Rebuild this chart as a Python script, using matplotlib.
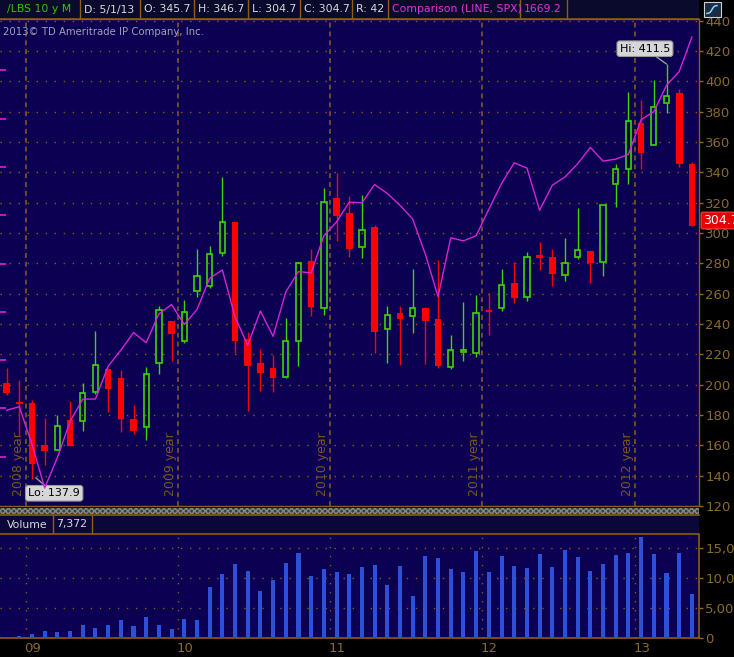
import matplotlib
matplotlib.use('Agg')
import matplotlib.pyplot as plt
from matplotlib.patches import Rectangle
import numpy as np

# ---------------- data (monthly /LBS candles, Nov 2008 .. May 2013) ----------------
opens = [201.1, 188.5, 188.1, 160.3, 157.2, 176.7, 175.9, 195.0, 210.3, 204.3,
         177.4, 171.9, 214.0, 241.8, 229.0, 262.0, 265.0, 286.7, 307.6, 230.0,
         214.2, 211.0, 204.8, 229.1, 281.3, 250.8, 323.4, 313.5, 290.9, 304.3,
         237.0, 247.1, 245.6, 250.4, 243.1, 212.0, 222.0, 221.2, 249.5, 250.8,
         267.3, 258.1, 285.7, 284.4, 272.3, 284.2, 288.5, 281.1, 332.4, 342.2,
         372.5, 358.0, 385.6, 392.2, 345.7]
highs = [211.0, 203.0, 189.9, 178.0, 180.2, 189.4, 200.9, 235.6, 211.0, 209.6,
         186.6, 211.6, 251.7, 242.0, 255.6, 289.8, 291.6, 337.2, 307.6, 235.0,
         223.4, 219.5, 243.8, 280.8, 289.2, 330.0, 339.6, 324.7, 325.3, 305.6,
         251.7, 251.7, 276.0, 251.0, 282.0, 232.6, 254.3, 259.4, 260.7, 276.0,
         281.1, 287.2, 293.8, 289.8, 297.0, 316.8, 288.5, 318.5, 345.5, 393.0,
         387.8, 401.0, 411.5, 394.8, 346.7]
lows = [193.4, 166.2, 137.9, 147.2, 157.0, 159.4, 169.3, 194.0, 181.8, 169.0,
        167.5, 163.4, 207.2, 215.7, 227.6, 257.8, 263.7, 284.8, 221.2, 182.9,
        196.0, 195.3, 204.5, 212.4, 245.3, 246.0, 294.6, 284.1, 283.4, 221.0,
        214.5, 213.0, 234.2, 213.8, 211.0, 210.5, 215.5, 218.4, 232.8, 248.6,
        253.9, 255.0, 275.6, 265.0, 268.6, 283.0, 267.3, 271.6, 317.2, 332.4,
        342.2, 358.0, 379.0, 343.5, 304.7]
closes = [194.5, 187.5, 147.8, 156.5, 172.6, 159.6, 194.3, 213.0, 197.3, 177.6,
          169.7, 206.8, 249.5, 233.5, 248.2, 271.9, 286.3, 307.4, 229.0, 212.4,
          207.8, 204.3, 228.5, 280.4, 251.3, 320.5, 311.0, 289.4, 302.1, 234.8,
          246.2, 243.4, 250.8, 242.0, 212.4, 222.6, 222.6, 247.5, 248.0, 266.0,
          257.2, 284.4, 283.4, 273.0, 280.4, 289.0, 280.2, 318.5, 342.0, 374.0,
          352.5, 383.0, 390.6, 345.3, 304.7]
volumes = [170, 335, 670, 1170, 1000, 1170, 2180, 1680, 2180, 3020,
           2010, 3520, 2180, 1510, 3180, 3020, 8550, 10560, 12230, 11060,
           7880, 9550, 12400, 14080, 10220, 11400, 10900, 10560, 11730, 12070,
           8880, 11900, 7040, 13580, 13240, 11400, 10900, 14410, 10900, 13580,
           11900, 11570, 13910, 11730, 14580, 13410, 11060, 12230, 13740, 14080,
           16760, 13910, 10730, 14080, 7372]
spx = [896.2, 903.3, 825.9, 735.1, 797.9, 872.8, 919.1, 919.3, 987.5, 1020.6,
       1057.1, 1036.2, 1095.6, 1115.1, 1073.9, 1104.5, 1169.4, 1186.7, 1089.4, 1030.7,
       1101.6, 1049.3, 1141.2, 1183.3, 1180.6, 1257.6, 1286.1, 1327.2, 1325.8, 1363.6,
       1345.2, 1320.6, 1292.3, 1218.9, 1131.4, 1253.3, 1247.0, 1257.6, 1312.4, 1365.7,
       1408.5, 1397.9, 1310.3, 1362.2, 1379.3, 1406.6, 1440.7, 1412.2, 1416.2, 1426.2,
       1498.1, 1514.7, 1569.2, 1597.6, 1669.2]
price_ticks = [120, 140, 160, 180, 200, 220, 240, 260, 280, 300, 320, 340, 360, 380, 400, 420, 440]
spx_ticks = [800, 900, 1000, 1100, 1200, 1300, 1400, 1500, 1600]
year_labels = ['2008 year', '2009 year', '2010 year', '2011 year', '2012 year']
vol_xlabels = ['09', '10', '11', '12', '13']
vol_ticks = [0, 5000, 10000, 15000]
vol_ticklabels = ['0', '5,000', '10,000', '15,000']
header_items = [('/LBS 10 y M', '#35c400'), ('D: 5/1/13', '#d8d8d8'), ('O: 345.7', '#d8d8d8'),
                ('H: 346.7', '#d8d8d8'), ('L: 304.7', '#d8d8d8'), ('C: 304.7', '#d8d8d8'),
                ('R: 42', '#d8d8d8'), ('Comparison (LINE, SPX)', '#e030e0'), ('1669.2', '#e030e0')]

# ---------------- style ----------------
W, H = 734, 657
BG = '#0b0052'
BROWN = '#8b5e14'
LBL = '#8a6a2a'
GREEN = '#3fd400'
RED = '#ff0000'
MAG = '#d424d4'
VOLC = '#2d50d9'

def fx(px):
    return px / W

def fy(py):
    return 1 - py / H

fig = plt.figure(figsize=(W / 100, H / 100), dpi=100, facecolor='black')

x = np.arange(len(closes))
years_x = [1.5, 13.5, 25.5, 37.5, 49.5]
xlim = (-0.52, 54.56)

# ---------------- main price panel ----------------
ax = fig.add_axes([0, fy(506), fx(699), (506 - 19) / H], facecolor=BG)
ax.set_xlim(*xlim)
ax.set_ylim(120.9, 441.2)

# comparison line (SPX) on its own scale
ax2 = ax.twinx()
ax2.set_xlim(*xlim)
ax2.set_ylim(697.8, 1706.5)
ax2.plot(x, spx, color=MAG, lw=1.0, zorder=5)
ax2.yaxis.set_ticks_position('left')
ax2.set_yticks(spx_ticks)
ax2.tick_params(axis='y', direction='in', colors=MAG, length=4, width=1.2,
                labelleft=False, labelright=False)
for s in ax2.spines.values():
    s.set_visible(False)

ax.spines['left'].set_visible(False)
for s in ['top', 'bottom', 'right']:
    ax.spines[s].set_color(BROWN)
    ax.spines[s].set_linewidth(1.0)
ax.set_xticks([])
ax.yaxis.tick_right()
ax.set_yticks(price_ticks)
ax.set_yticklabels([str(t) for t in price_ticks])
ax.tick_params(axis='y', left=False, labelleft=False, right=True, labelright=True,
               colors=LBL, labelcolor=LBL, labelsize=9.5, length=3, width=1, pad=1.5)
for t in price_ticks:
    ax.axhline(t, color=BROWN, lw=1.0, ls=(0, (1, 5.5)), zorder=1)
for yx in years_x:
    ax.axvline(yx, color=BROWN, lw=1.1, ls=(0, (3.2, 2.6)), zorder=1)
for yx, lab in zip(years_x, year_labels):
    ax.text(yx - 0.6, 126.8, lab, rotation=90, ha='center', va='bottom',
            color='#7a5520', fontsize=9, zorder=2)

# candles
bw = 0.52
for i in x:
    o, h, l, c = opens[i], highs[i], lows[i], closes[i]
    up = c >= o and not (i == 1)
    lo_b, hi_b = min(o, c), max(o, c)
    if hi_b - lo_b < 1.2:
        m = (hi_b + lo_b) / 2
        lo_b, hi_b = m - 0.6, m + 0.6
    if up:
        ax.vlines(i, hi_b, h, color=GREEN, lw=1.0, zorder=3)
        ax.vlines(i, l, lo_b, color=GREEN, lw=1.0, zorder=3)
        ax.bar(i, hi_b - lo_b, bottom=lo_b, width=bw - 0.1, fill=False,
               edgecolor=GREEN, linewidth=1.2, zorder=3)
    else:
        ax.vlines(i, l, h, color=RED, lw=1.0, zorder=3)
        ax.bar(i, hi_b - lo_b, bottom=lo_b, width=bw, color=RED, linewidth=0, zorder=3)

# callouts
ax.annotate('Hi: 411.5', xy=(52, 411.5), xytext=(50.3, 421.6), ha='center', va='center',
            fontsize=8, color='black',
            bbox=dict(boxstyle='round,pad=0.25', fc='#d6d6d6', ec='#9a9a9a', lw=0.8),
            arrowprops=dict(arrowstyle='-', color='#9a9a9a', lw=1.0, shrinkA=0, shrinkB=0),
            zorder=8)
ax.annotate('Lo: 137.9', xy=(2.3, 138.6), xytext=(3.75, 128.4), ha='center', va='center',
            fontsize=8, color='black',
            bbox=dict(boxstyle='round,pad=0.25', fc='#d6d6d6', ec='#9a9a9a', lw=0.8),
            arrowprops=dict(arrowstyle='-', color='#9a9a9a', lw=1.0, shrinkA=0, shrinkB=0),
            zorder=8)

# last price tag
fig.text(fx(703), fy(220.5), '304.7', color='white', fontsize=9, va='center', ha='left',
         bbox=dict(boxstyle='round,pad=0.15', fc='#e60000', ec='#ff4040', lw=0.8), zorder=20)

fig.text(fx(3), fy(32), '2013\u00a9 TD Ameritrade IP Company, Inc.', color='#a0a0b8',
         fontsize=7.3, va='center', ha='left', zorder=20)

# ---------------- header ----------------
hdr = fig.add_axes([0, fy(19), fx(699), 19 / H], facecolor='#0a0a2c')
hdr.set_xlim(0, 699)
hdr.set_ylim(19, 0)
hdr.set_xticks([]); hdr.set_yticks([])
for s in hdr.spines.values():
    s.set_visible(False)
bounds = [79.6, 140.4, 194.3, 248, 299.6, 352, 387.6, 519.7, 566.5]
for b in bounds:
    hdr.axvline(b, color=BROWN, lw=1.0)
hdr.axhline(18.5, color=BROWN, lw=1.2)
starts = [7, 83.5, 144.5, 198.5, 252, 304, 356, 391.5, 523.5]
for (txt, col), sx in zip(header_items, starts):
    hdr.text(sx, 9.5, txt, color=col, fontsize=7.8, va='center', ha='left')

# icon
fig.patches.append(Rectangle((fx(703.5), fy(17)), 17 / W, 15 / H, transform=fig.transFigure,
                             fc='#1b2c44', ec='#d0d0d0', lw=0.8, zorder=30))
tt = np.linspace(-1, 1, 20)
fig.lines.append(plt.Line2D(fx(712 + 5 * tt), fy(9.5 - 4 * np.tanh(2.2 * tt)),
                            transform=fig.transFigure, color='#7fd8ff', lw=1.1, zorder=31))

# ---------------- separator ----------------
fig.patches.append(Rectangle((0, fy(513.5)), fx(699), 6 / H, transform=fig.transFigure,
                             fc='#3c3c3c', ec='#888888', hatch='xxxxxx', lw=0, zorder=25))

# ---------------- volume header ----------------
vh = fig.add_axes([0, fy(534), fx(699), (534 - 515) / H], facecolor='#0a0838')
vh.set_xlim(0, 699); vh.set_ylim(19, 0)
vh.set_xticks([]); vh.set_yticks([])
for s in ['left', 'right']:
    vh.spines[s].set_visible(False)
for s in ['top', 'bottom']:
    vh.spines[s].set_color(BROWN)
    vh.spines[s].set_linewidth(1.2)
vh.axvline(52.5, color=BROWN, lw=1.0)
vh.axvline(92, color=BROWN, lw=1.0)
vh.text(7, 9.5, 'Volume', color='#d8d8d8', fontsize=7.8, va='center', ha='left')
vh.text(56, 9.5, '7,372', color='#d8d8d8', fontsize=7.8, va='center', ha='left')

# ---------------- volume panel ----------------
av = fig.add_axes([0, fy(638), fx(699), (638 - 535) / H], facecolor=BG)
av.set_xlim(*xlim)
av.set_ylim(0, 17100)
av.spines['left'].set_visible(False)
av.spines['top'].set_visible(False)
for s in ['bottom', 'right']:
    av.spines[s].set_color(BROWN)
    av.spines[s].set_linewidth(1.2)
av.bar(x, volumes, width=0.32, color=VOLC, linewidth=0, zorder=3)
av.yaxis.tick_right()
av.set_yticks(vol_ticks)
av.set_yticklabels(vol_ticklabels)
av.tick_params(axis='y', colors=LBL, labelcolor=LBL, labelsize=9.5, length=3, width=1, pad=1.5)
for t in vol_ticks[1:]:
    av.axhline(t, color=BROWN, lw=1.0, ls=(0, (1, 5.5)), zorder=1)
for yx in years_x:
    av.axvline(yx, color=BROWN, lw=1.0, ls=(0, (1, 5.5)), zorder=1)
av.set_xticks([yx + 0.55 for yx in years_x])
av.set_xticklabels(vol_xlabels)
av.tick_params(axis='x', colors=LBL, labelcolor=LBL, labelsize=9.5, length=0, pad=3)

fig.savefig('out.png', dpi=100, facecolor='black')
